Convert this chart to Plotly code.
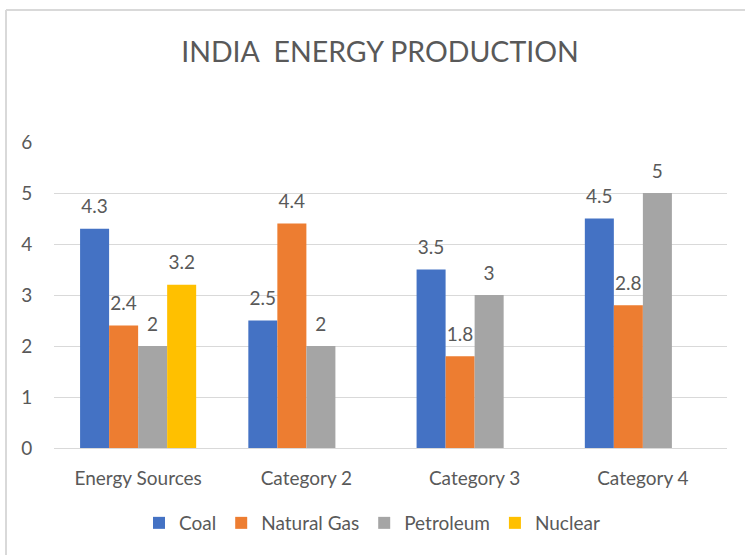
import plotly.graph_objects as go

categories = ["Energy Sources", "Category 2", "Category 3", "Category 4"]
coal = [4.3, 2.5, 3.5, 4.5]
natural_gas = [2.4, 4.4, 1.8, 2.8]
petroleum = [2, 2, 3, 5]
nuclear = [3.2, None, None, None]
y_ticks = [0, 1, 2, 3, 4, 5, 6]

series = [
    ("Coal", coal, "#4472C4"),
    ("Natural Gas", natural_gas, "#ED7D31"),
    ("Petroleum", petroleum, "#A5A5A5"),
    ("Nuclear", nuclear, "#FFC000"),
]

FONT = "Lato"
GREY = "#595959"
LBL = 19

fig = go.Figure()
for name, vals, color in series:
    fig.add_trace(go.Bar(
        name=name, x=categories, y=vals, marker=dict(color=color, line=dict(width=0)),
        texttemplate="<span style='font-size:%dpx'>%%{y}</span><br> " % LBL,
        textposition="outside", cliponaxis=False, constraintext="none",
        textfont=dict(family=FONT, size=8, color=GREY),
    ))

L, R, T, B = 54, 18, 142, 107
W, H = 745, 555
pw, ph = W - L - R, H - T - B

fig.update_layout(
    width=W, height=H,
    margin=dict(l=L, r=R, t=T, b=B),
    paper_bgcolor="white", plot_bgcolor="white",
    barmode="group", bargap=0.31, bargroupgap=0,
    title=dict(text="INDIA&nbsp;&nbsp;ENERGY PRODUCTION", x=380 / W, xref="container",
               y=1 - 52 / H, yref="container", xanchor="center", yanchor="middle",
               font=dict(family=FONT, size=28.5, color=GREY)),
    font=dict(family=FONT, color=GREY, size=LBL),
    legend=dict(orientation="h", x=(372 - L) / pw, xanchor="center",
                y=(H - B - 523) / ph, yanchor="middle", itemwidth=30,
                font=dict(family=FONT, size=LBL, color=GREY), traceorder="normal"),
    showlegend=True,
)
fig.update_xaxes(showgrid=False, showline=True, linecolor="#D9D9D9", linewidth=1,
                 ticks="outside", ticklen=13, tickcolor="rgba(0,0,0,0)",
                 tickfont=dict(family=FONT, size=LBL, color=GREY))
fig.update_yaxes(range=[0, 6], tickvals=y_ticks, showgrid=True, gridcolor="#D9D9D9",
                 gridwidth=1, zeroline=False, showline=False,
                 ticks="outside", ticklen=17, tickcolor="rgba(0,0,0,0)",
                 tickfont=dict(family=FONT, size=LBL, color=GREY))

# chart frame (top and left edges)
fig.add_shape(type="line", xref="paper", yref="paper",
              x0=(6 - L) / pw, x1=(W - L) / pw, y0=(H - B - 10) / ph, y1=(H - B - 10) / ph,
              line=dict(color="#D9D9D9", width=2))
fig.add_shape(type="line", xref="paper", yref="paper",
              x0=(6 - L) / pw, x1=(6 - L) / pw, y0=(H - B - 10) / ph, y1=(H - B - H) / ph,
              line=dict(color="#D9D9D9", width=2))

fig.write_html("out.html", config={"displayModeBar": False},
               post_script="document.body.style.margin='0';")
